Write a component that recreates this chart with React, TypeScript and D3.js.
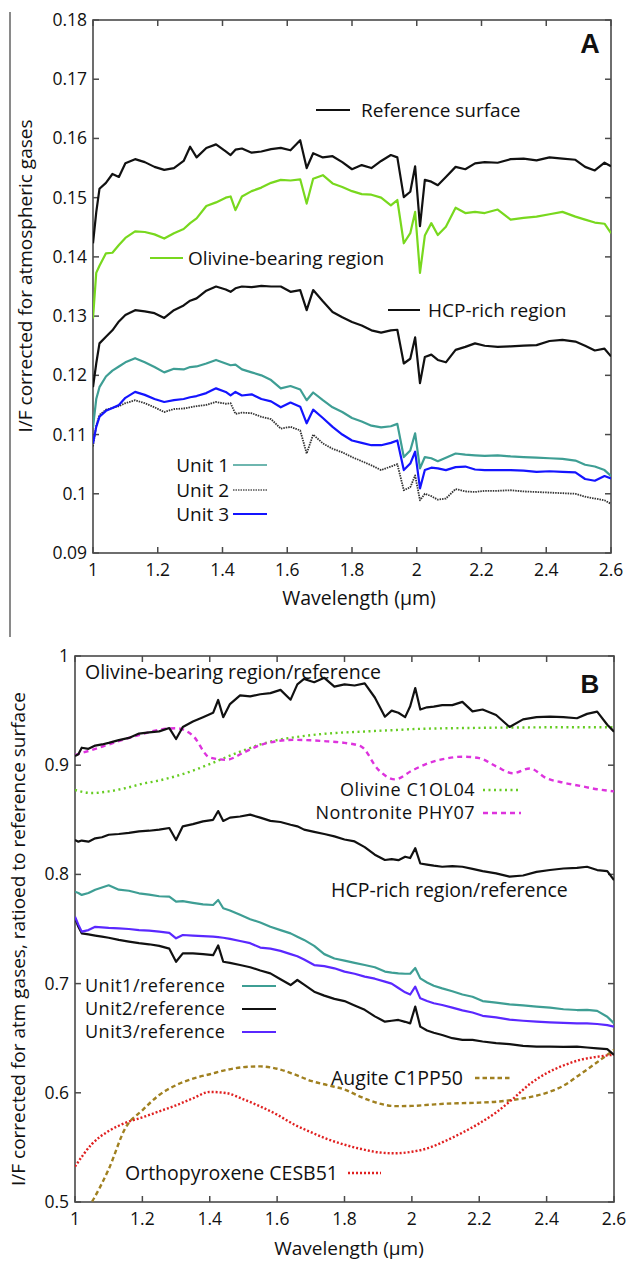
import React from "react";
import * as d3 from "d3";

// ---------- shared wavelength grid (µm) ----------
const WAVE = [1.00,1.01,1.02,1.04,1.06,1.08,1.10,1.13,1.16,1.19,1.22,1.25,1.28,1.30,1.32,1.35,1.38,1.41,1.425,1.44,1.46,1.49,1.52,1.55,1.58,1.61,1.64,1.66,1.68,1.71,1.74,1.77,1.80,1.83,1.86,1.89,1.92,1.94,1.96,1.98,1.995,2.01,2.025,2.045,2.065,2.09,2.12,2.15,2.18,2.21,2.25,2.29,2.33,2.37,2.41,2.45,2.49,2.52,2.55,2.58,2.60];

// ---------- Panel A: I/F corrected for atmospheric gases ----------
const REF_SURFACE = [0.1423,0.1475,0.1515,0.1525,0.1540,0.1535,0.1558,0.1565,0.1560,0.1552,0.1547,0.1550,0.1562,0.1586,0.1568,0.1584,0.1590,0.1578,0.1572,0.1581,0.1583,0.1576,0.1578,0.1582,0.1584,0.1580,0.1597,0.1550,0.1575,0.1568,0.1570,0.1560,0.1548,0.1555,0.1550,0.1562,0.1572,0.1568,0.1501,0.1510,0.1553,0.1452,0.1530,0.1527,0.1521,0.1535,0.1552,0.1548,0.1558,0.1560,0.1559,0.1565,0.1566,0.1563,0.1568,0.1566,0.1564,0.1552,0.1546,0.1559,0.1553];
const OLIVINE_REGION = [0.1296,0.1373,0.1385,0.1406,0.1407,0.1420,0.1432,0.1443,0.1442,0.1438,0.1431,0.1440,0.1447,0.1457,0.1465,0.1486,0.1492,0.1500,0.1502,0.1479,0.1502,0.1511,0.1517,0.1525,0.1530,0.1529,0.1531,0.1490,0.1532,0.1538,0.1524,0.1518,0.1511,0.1506,0.1505,0.1500,0.1487,0.1496,0.1423,0.1440,0.1476,0.1373,0.1436,0.1457,0.1437,0.1451,0.1483,0.1474,0.1476,0.1474,0.1480,0.1463,0.1466,0.1468,0.1472,0.1476,0.1468,0.1463,0.1458,0.1456,0.1440];
const HCP_REGION = [0.1180,0.1220,0.1254,0.1265,0.1276,0.1291,0.1302,0.1310,0.1308,0.1305,0.1297,0.1310,0.1318,0.1326,0.1330,0.1343,0.1350,0.1345,0.1341,0.1347,0.1350,0.1349,0.1351,0.1350,0.1350,0.1341,0.1344,0.1310,0.1344,0.1325,0.1307,0.1298,0.1290,0.1284,0.1276,0.1272,0.1276,0.1277,0.1220,0.1228,0.1264,0.1187,0.1231,0.1235,0.1226,0.1222,0.1243,0.1248,0.1254,0.1250,0.1248,0.1249,0.1250,0.1251,0.1258,0.1260,0.1257,0.1250,0.1242,0.1245,0.1232];
const UNIT1 = [0.1112,0.1160,0.1180,0.1198,0.1208,0.1215,0.1222,0.1229,0.1222,0.1214,0.1205,0.1211,0.1210,0.1214,0.1215,0.1220,0.1226,0.1220,0.1217,0.1218,0.1210,0.1205,0.1200,0.1192,0.1178,0.1182,0.1176,0.1158,0.1171,0.1158,0.1146,0.1138,0.1128,0.1122,0.1115,0.1112,0.1114,0.1118,0.1062,0.1073,0.1102,0.1043,0.1062,0.1060,0.1055,0.1061,0.1068,0.1066,0.1065,0.1064,0.1065,0.1063,0.1062,0.1061,0.1060,0.1059,0.1056,0.1049,0.1046,0.1040,0.1030];
const UNIT2 = [0.1080,0.1115,0.1133,0.1142,0.1145,0.1148,0.1153,0.1158,0.1153,0.1146,0.1138,0.1143,0.1144,0.1146,0.1148,0.1150,0.1155,0.1152,0.1153,0.1135,0.1137,0.1136,0.1130,0.1126,0.1110,0.1113,0.1107,0.1068,0.1100,0.1085,0.1076,0.1070,0.1062,0.1055,0.1048,0.1040,0.1046,0.1050,0.1006,0.1011,0.1031,0.0989,0.1000,0.0996,0.0990,0.0992,0.1008,0.1004,0.1003,0.1005,0.1005,0.1006,0.1004,0.1003,0.1002,0.1001,0.1000,0.0995,0.0992,0.0989,0.0983];
const UNIT3 = [0.1085,0.1113,0.1130,0.1140,0.1145,0.1150,0.1162,0.1172,0.1167,0.1160,0.1155,0.1158,0.1160,0.1163,0.1165,0.1170,0.1178,0.1172,0.1166,0.1172,0.1166,0.1168,0.1160,0.1156,0.1146,0.1154,0.1147,0.1119,0.1142,0.1128,0.1113,0.1100,0.1090,0.1086,0.1082,0.1082,0.1086,0.1090,0.1040,0.1051,0.1071,0.1009,0.1040,0.1044,0.1043,0.1040,0.1045,0.1046,0.1041,0.1040,0.1040,0.1040,0.1039,0.1037,0.1038,0.1037,0.1036,0.1025,0.1022,0.1030,0.1026];

// ---------- Panel B: ratios to reference surface ----------
const OLIVINE_RATIO = [0.9084,0.9100,0.9160,0.9150,0.9180,0.9190,0.9205,0.9230,0.9250,0.9290,0.9300,0.9310,0.9340,0.9240,0.9350,0.9400,0.9440,0.9480,0.9597,0.9440,0.9560,0.9640,0.9630,0.9650,0.9660,0.9690,0.9600,0.9740,0.9790,0.9760,0.9800,0.9720,0.9740,0.9730,0.9750,0.9620,0.9444,0.9500,0.9480,0.9440,0.9540,0.9706,0.9510,0.9530,0.9536,0.9550,0.9550,0.9580,0.9493,0.9510,0.9460,0.9350,0.9420,0.9440,0.9445,0.9440,0.9430,0.9470,0.9490,0.9370,0.9307];
const HCP_RATIO = [0.8315,0.8300,0.8310,0.8300,0.8330,0.8340,0.8363,0.8370,0.8380,0.8394,0.8400,0.8410,0.8425,0.8315,0.8440,0.8460,0.8486,0.8500,0.8580,0.8490,0.8520,0.8530,0.8547,0.8520,0.8490,0.8480,0.8455,0.8440,0.8410,0.8390,0.8370,0.8348,0.8320,0.8302,0.8250,0.8180,0.8132,0.8140,0.8130,0.8162,0.8150,0.8240,0.8100,0.8090,0.8080,0.8070,0.8075,0.8070,0.8050,0.8030,0.8010,0.7980,0.7990,0.8023,0.8040,0.8054,0.8060,0.8070,0.8040,0.8030,0.7947];
const UNIT1_RATIO = [0.7842,0.7830,0.7812,0.7830,0.7860,0.7880,0.7900,0.7860,0.7850,0.7827,0.7815,0.7800,0.7796,0.7750,0.7755,0.7740,0.7725,0.7720,0.7766,0.7690,0.7670,0.7630,0.7590,0.7560,0.7520,0.7490,0.7460,0.7430,0.7400,0.7345,0.7270,0.7230,0.7210,0.7190,0.7170,0.7150,0.7110,0.7100,0.7094,0.7090,0.7090,0.7143,0.7048,0.7010,0.6980,0.6956,0.6930,0.6900,0.6880,0.6840,0.6825,0.6810,0.6800,0.6790,0.6780,0.6765,0.6758,0.6760,0.6750,0.6697,0.6636];
const UNIT2_RATIO = [0.7600,0.7520,0.7460,0.7450,0.7440,0.7430,0.7420,0.7400,0.7384,0.7370,0.7360,0.7345,0.7320,0.7200,0.7277,0.7277,0.7270,0.7260,0.7350,0.7200,0.7190,0.7170,0.7150,0.7120,0.7094,0.7040,0.6987,0.7033,0.6990,0.6926,0.6890,0.6860,0.6840,0.6800,0.6760,0.6700,0.6651,0.6660,0.6667,0.6650,0.6636,0.6789,0.6606,0.6570,0.6550,0.6529,0.6500,0.6484,0.6484,0.6470,0.6455,0.6445,0.6430,0.6423,0.6423,0.6420,0.6423,0.6415,0.6407,0.6400,0.6346];
const UNIT3_RATIO = [0.7613,0.7540,0.7476,0.7490,0.7520,0.7515,0.7510,0.7506,0.7500,0.7490,0.7485,0.7476,0.7465,0.7415,0.7445,0.7440,0.7435,0.7430,0.7425,0.7420,0.7410,0.7390,0.7370,0.7330,0.7320,0.7300,0.7270,0.7250,0.7220,0.7170,0.7160,0.7140,0.7110,0.7090,0.7064,0.7045,0.7018,0.7000,0.6960,0.6920,0.6900,0.6972,0.6865,0.6840,0.6820,0.6804,0.6780,0.6755,0.6735,0.6705,0.6690,0.6670,0.6660,0.6652,0.6645,0.6640,0.6636,0.6636,0.6630,0.6620,0.6606];

// ---------- library spectra (coarse grid) ----------
const LIB_WAVE = [1.00,1.05,1.10,1.15,1.20,1.25,1.30,1.35,1.40,1.45,1.50,1.55,1.60,1.65,1.70,1.75,1.80,1.85,1.90,1.95,2.00,2.05,2.10,2.15,2.20,2.25,2.30,2.35,2.40,2.45,2.50,2.55,2.60];
const OLIVINE_LIB = [0.8773,0.8745,0.8760,0.8790,0.8830,0.8860,0.8900,0.8950,0.9010,0.9075,0.9135,0.9190,0.9230,0.9255,0.9275,0.9290,0.9300,0.9307,0.9315,0.9322,0.9330,0.9335,0.9338,0.9340,0.9342,0.9344,0.9345,0.9346,0.9347,0.9347,0.9347,0.9347,0.9347];
const NONTRONITE_LIB = [0.9093,0.9140,0.9190,0.9240,0.9285,0.9325,0.9338,0.9270,0.9070,0.9050,0.9115,0.9185,0.9220,0.9232,0.9228,0.9218,0.9205,0.9170,0.8960,0.8870,0.8950,0.9020,0.9060,0.9078,0.9065,0.8990,0.8926,0.8970,0.8880,0.8840,0.8810,0.8780,0.8760];
const AUGITE_LIB = [0.4780,0.5000,0.5300,0.5680,0.5840,0.5980,0.6070,0.6130,0.6170,0.6210,0.6235,0.6242,0.6220,0.6170,0.6110,0.6070,0.6030,0.5960,0.5905,0.5878,0.5880,0.5890,0.5900,0.5905,0.5910,0.5918,0.5935,0.5960,0.6000,0.6065,0.6170,0.6280,0.6394];
const OPX_LIB = [0.5324,0.5530,0.5650,0.5725,0.5775,0.5830,0.5885,0.5950,0.6008,0.5997,0.5940,0.5875,0.5800,0.5710,0.5640,0.5575,0.5525,0.5485,0.5455,0.5446,0.5460,0.5495,0.5560,0.5635,0.5720,0.5820,0.5945,0.6080,0.6180,0.6250,0.6302,0.6330,0.6349];

// ---------- ticks ----------
const X_TICKS = [1, 1.2, 1.4, 1.6, 1.8, 2, 2.2, 2.4, 2.6];
const X_TICK_LABELS = ["1", "1.2", "1.4", "1.6", "1.8", "2", "2.2", "2.4", "2.6"];
const A_Y_TICKS = [0.09, 0.1, 0.11, 0.12, 0.13, 0.14, 0.15, 0.16, 0.17, 0.18];
const A_Y_LABELS = ["0.09", "0.1", "0.11", "0.12", "0.13", "0.14", "0.15", "0.16", "0.17", "0.18"];
const B_Y_TICKS = [0.5, 0.6, 0.7, 0.8, 0.9, 1];
const B_Y_LABELS = ["0.5", "0.6", "0.7", "0.8", "0.9", "1"];

const FONT = "'Open Sans', 'Noto Sans', sans-serif";
const FS = 17.5;     // tick labels
const TFS = 19;      // axis titles
const LFS = 19.5;    // legend / annotation texts
const SFS = 18;      // tightly stacked legend texts
const AXIS = "#4a4a4a";

type Box = { l: number; r: number; t: number; b: number };

function Frame({ box, x, y, yTicks, yLabels, id }: { box: Box; x: d3.ScaleLinear<number, number>; y: d3.ScaleLinear<number, number>; yTicks: number[]; yLabels: string[]; id: string }) {
  const tl = 6;
  return (
    <g>
      <defs>
        <clipPath id={id}>
          <rect x={box.l} y={box.t} width={box.r - box.l} height={box.b - box.t} />
        </clipPath>
      </defs>
      {X_TICKS.map((t, i) => (
        <g key={"x" + i}>
          <line x1={x(t)} x2={x(t)} y1={box.b} y2={box.b - tl} stroke={AXIS} strokeWidth={1.5} />
          <line x1={x(t)} x2={x(t)} y1={box.t} y2={box.t + tl} stroke={AXIS} strokeWidth={1.5} />
          <text x={x(t)} y={box.b + 23} textAnchor="middle" fontSize={FS} fontFamily={FONT} fill="#111">{X_TICK_LABELS[i]}</text>
        </g>
      ))}
      {yTicks.map((t, i) => (
        <g key={"y" + i}>
          <line x1={box.l} x2={box.l + tl} y1={y(t)} y2={y(t)} stroke={AXIS} strokeWidth={1.5} />
          <line x1={box.r} x2={box.r - tl} y1={y(t)} y2={y(t)} stroke={AXIS} strokeWidth={1.5} />
          <text x={box.l - 6} y={y(t) + 6} textAnchor="end" fontSize={FS} fontFamily={FONT} fill="#111">{yLabels[i]}</text>
        </g>
      ))}
      <rect x={box.l} y={box.t} width={box.r - box.l} height={box.b - box.t} fill="none" stroke={AXIS} strokeWidth={1.6} />
    </g>
  );
}

function Legend({ x1, x2, y, color, dash, width = 2 }: { x1: number; x2: number; y: number; color: string; dash?: string; width?: number }) {
  return <line x1={x1} x2={x2} y1={y} y2={y} stroke={color} strokeWidth={width} strokeDasharray={dash} />;
}

function Txt({ x, y, children, anchor = "start", size = LFS, ls = 0 }: { x: number; y: number; children: React.ReactNode; anchor?: string; size?: number; ls?: number }) {
  return (
    <text x={x} y={y} textAnchor={anchor as any} fontSize={size} fontFamily={FONT} letterSpacing={ls} fill="#111">{children}</text>
  );
}

export default function App() {
  const boxA: Box = { l: 93, r: 611, t: 20, b: 553 };
  const boxB: Box = { l: 75, r: 614, t: 656, b: 1202 };
  const xA = d3.scaleLinear().domain([1, 2.6]).range([boxA.l, boxA.r]);
  const yA = d3.scaleLinear().domain([0.09, 0.18]).range([boxA.b, boxA.t]);
  const xB = d3.scaleLinear().domain([1, 2.6]).range([boxB.l, boxB.r]);
  const yB = d3.scaleLinear().domain([0.5, 1]).range([boxB.b, boxB.t]);

  const lineA = (vals: number[]) => d3.line<number>().x((_, i) => xA(WAVE[i])).y((d) => yA(d))(vals) || "";
  const lineB = (vals: number[]) => d3.line<number>().x((_, i) => xB(WAVE[i])).y((d) => yB(d))(vals) || "";
  const libB = (vals: number[]) => d3.line<number>().x((_, i) => xB(LIB_WAVE[i])).y((d) => yB(d)).curve(d3.curveMonotoneX)(vals) || "";

  const GREEN = "#78d81e";
  const TEAL = "#3e9e94";
  const BLUE = "#1414ff";
  const VIOLET = "#5a28ff";

  return (
    <svg width={627} height={1262} style={{ position: "absolute", left: 0, top: 0 }}>
      <rect x={0} y={0} width={627} height={1262} fill="#fff" />
      <line x1={10} x2={10} y1={12} y2={637} stroke="#8a8a8a" strokeWidth={2} />

      {/* ---------------- Panel A ---------------- */}
      <Frame box={boxA} x={xA} y={yA} yTicks={A_Y_TICKS} yLabels={A_Y_LABELS} id="clipA" />
      <g clipPath="url(#clipA)" fill="none" strokeLinejoin="round">
        <path d={lineA(REF_SURFACE)} stroke="#111" strokeWidth={2.2} />
        <path d={lineA(OLIVINE_REGION)} stroke={GREEN} strokeWidth={2.2} />
        <path d={lineA(HCP_REGION)} stroke="#111" strokeWidth={2.2} />
        <path d={lineA(UNIT1)} stroke={TEAL} strokeWidth={2.2} />
        <path d={lineA(UNIT2)} stroke="#333" strokeWidth={1.8} strokeDasharray="1.5,1" />
        <path d={lineA(UNIT3)} stroke={BLUE} strokeWidth={2.2} />
      </g>
      <Legend x1={316} x2={350} y={110} color="#111" />
      <Txt x={361} y={117} size={19}>Reference surface</Txt>
      <Legend x1={150} x2={183} y={258} color={GREEN} />
      <Txt x={188} y={265} size={19}>Olivine-bearing region</Txt>
      <Legend x1={388} x2={420} y={310} color="#111" />
      <Txt x={428} y={317} size={19}>HCP-rich region</Txt>
      <Txt x={229} y={472} anchor="end" size={19}>Unit 1</Txt>
      <Legend x1={233} x2={267} y={465} color={TEAL} width={1.3} />
      <Txt x={229} y={497} anchor="end" size={19}>Unit 2</Txt>
      <Legend x1={233} x2={267} y={490} color="#555" dash="1.5,1" width={1.3} />
      <Txt x={229} y={521} anchor="end" size={19}>Unit 3</Txt>
      <Legend x1={233} x2={267} y={514} color={BLUE} />
      <text x={590} y={53} textAnchor="middle" fontSize={27} fontWeight="bold" fontFamily="'Liberation Sans', Arial, sans-serif" fill="#111">A</text>
      <Txt x={359} y={605} anchor="middle" size={TFS + 0.5}>Wavelength (µm)</Txt>
      <text transform={`translate(32,${276}) rotate(-90)`} textAnchor="middle" fontSize={TFS} fontFamily={FONT} fill="#111">I/F corrected for atmospheric gases</text>

      {/* ---------------- Panel B ---------------- */}
      <Frame box={boxB} x={xB} y={yB} yTicks={B_Y_TICKS} yLabels={B_Y_LABELS} id="clipB" />
      <g clipPath="url(#clipB)" fill="none" strokeLinejoin="round">
        <path d={libB(OLIVINE_LIB)} stroke="#66cc22" strokeWidth={2.4} strokeDasharray="2,3.5" />
        <path d={libB(NONTRONITE_LIB)} stroke="#dd33dd" strokeWidth={2.4} strokeDasharray="5,4" />
        <path d={libB(AUGITE_LIB)} stroke="#a08020" strokeWidth={2.4} strokeDasharray="4.5,3" />
        <path d={libB(OPX_LIB)} stroke="#e02020" strokeWidth={2.4} strokeDasharray="2,2" />
        <path d={lineB(OLIVINE_RATIO)} stroke="#111" strokeWidth={2.2} />
        <path d={lineB(HCP_RATIO)} stroke="#111" strokeWidth={2.2} />
        <path d={lineB(UNIT1_RATIO)} stroke={TEAL} strokeWidth={2.2} />
        <path d={lineB(UNIT2_RATIO)} stroke="#111" strokeWidth={2.2} />
        <path d={lineB(UNIT3_RATIO)} stroke={VIOLET} strokeWidth={2.2} />
      </g>
      <Txt x={85} y={679}>Olivine-bearing region/reference</Txt>
      <Txt x={475} y={796} anchor="end" size={SFS} ls={0.5}>Olivine C1OL04</Txt>
      <Legend x1={483} x2={521} y={790} color="#66cc22" dash="2,3.5" width={2.4} />
      <Txt x={475} y={819} anchor="end" size={SFS} ls={0.5}>Nontronite PHY07</Txt>
      <Legend x1={483} x2={521} y={813} color="#dd33dd" dash="5,4" width={2.4} />
      <Txt x={331} y={897}>HCP-rich region/reference</Txt>
      <Txt x={85} y={992} size={SFS} ls={0.5}>Unit1/reference</Txt>
      <Legend x1={242} x2={276} y={986} color={TEAL} />
      <Txt x={85} y={1015} size={SFS} ls={0.5}>Unit2/reference</Txt>
      <Legend x1={242} x2={276} y={1009} color="#111" />
      <Txt x={85} y={1038} size={SFS} ls={0.5}>Unit3/reference</Txt>
      <Legend x1={242} x2={276} y={1032} color={VIOLET} />
      <Txt x={331} y={1085}>Augite C1PP50</Txt>
      <Legend x1={475} x2={510} y={1078} color="#a08020" dash="4.5,3" width={2.4} />
      <Txt x={125} y={1180}>Orthopyroxene CESB51</Txt>
      <Legend x1={348} x2={381} y={1173} color="#e02020" dash="2,2" width={2.4} />
      <text x={590} y={693} textAnchor="middle" fontSize={26} fontWeight="bold" fontFamily="'Liberation Sans', Arial, sans-serif" fill="#111">B</text>
      <Txt x={349} y={1255} anchor="middle" size={TFS}>Wavelength (µm)</Txt>
      <text transform={`translate(25,${939}) rotate(-90)`} textAnchor="middle" fontSize={TFS} fontFamily={FONT} fill="#111">I/F corrected for atm gases, ratioed to reference surface</text>
    </svg>
  );
}
